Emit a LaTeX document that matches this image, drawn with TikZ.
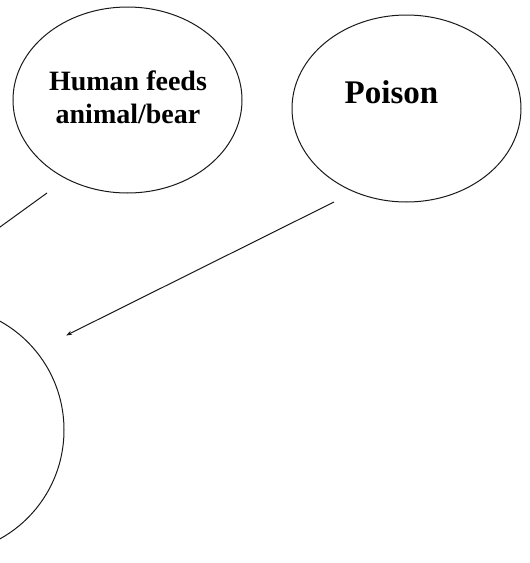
\documentclass[tikz,border=0pt]{standalone}
\usepackage{fontspec}
\setmainfont{Liberation Serif}
\usetikzlibrary{shapes.geometric,arrows.meta}
\begin{document}
\begin{tikzpicture}[x=1pt,y=-1pt,
  oval/.style={draw=black!90,line width=1pt,ellipse,inner sep=0pt},
  lbl/.style={font=\bfseries\fontsize{28}{33}\selectfont,inner sep=0pt,anchor=base},
  biglbl/.style={font=\bfseries\fontsize{33}{38}\selectfont,inner sep=0pt,anchor=base},
  link/.style={draw=black!90,line width=1pt}]
\useasboundingbox (0,0) rectangle (530,563);
\clip (0,0) rectangle (530,563);
\fill[white] (0,0) rectangle (530,563);
\node[oval,minimum width=229pt,minimum height=186pt] (human) at (127.5,100) {};
\node[lbl] (humanA) at (128,90) {Human feeds};
\node[lbl] (humanB) at (128,123) {animal/bear};
\node[oval,minimum width=229pt,minimum height=187pt] (poison) at (406.5,108.5) {};
\node[biglbl] (poisontxt) at (391.5,103) {Poison};
\node[oval,minimum width=246pt,minimum height=248pt] (animal) at (-59,430) {};
\coordinate (hs) at (47,193);
\coordinate (he) at (-20,241.5);
\coordinate (ps) at (334,202);
\coordinate (pe) at (66,335.5);
\draw[link] (hs) -- (he);
\draw[link,-{Stealth[length=6pt,width=4pt]}] (ps) -- (pe);
\end{tikzpicture}
\end{document}
